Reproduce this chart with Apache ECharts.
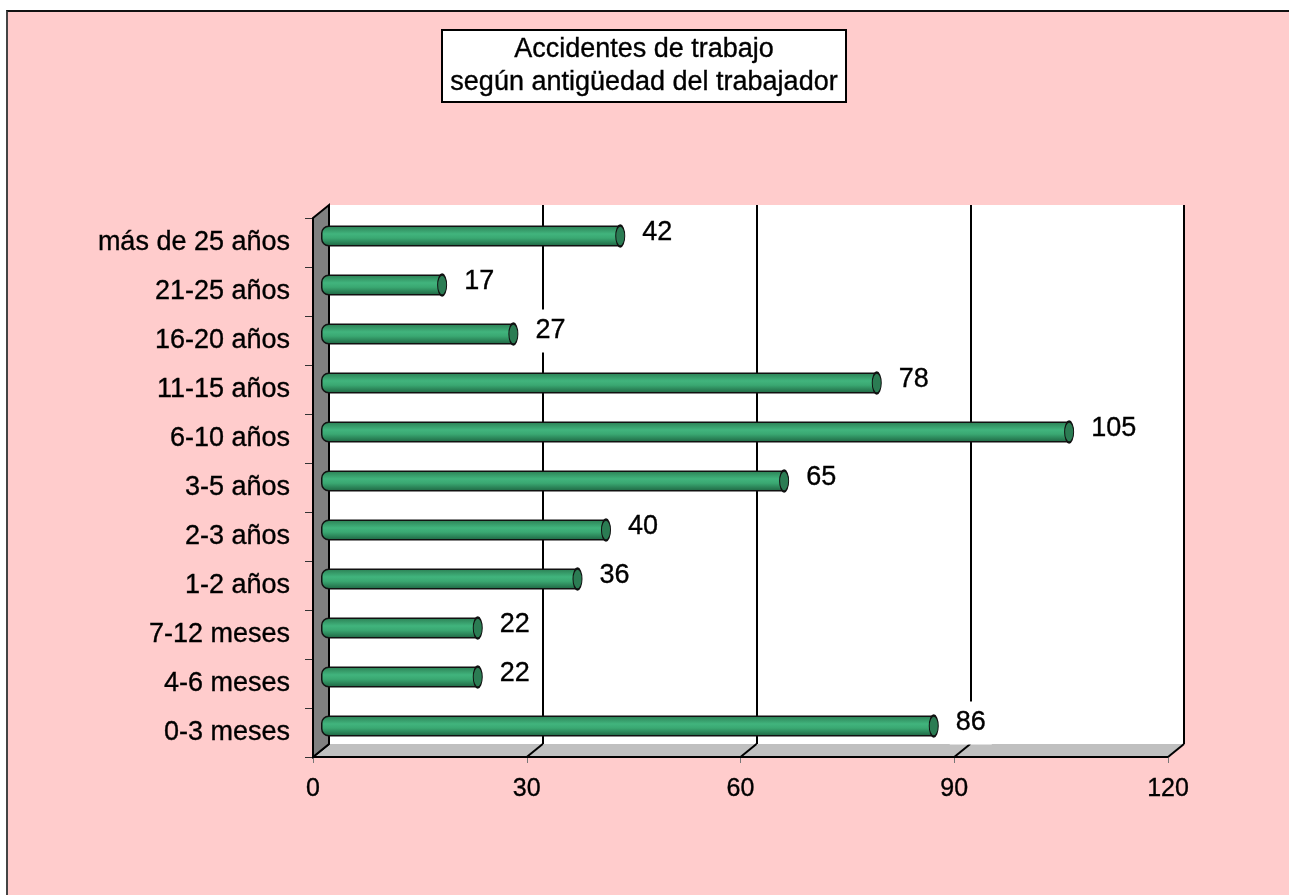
<!DOCTYPE html>
<html>
<head>
<meta charset="utf-8">
<script src="https://cdn.jsdelivr.net/npm/echarts@6/dist/echarts.min.js"></script>
<style>
html,body{margin:0;padding:0;background:#fff;width:1289px;height:895px;overflow:hidden;}
#bg{position:absolute;left:6px;top:10px;width:1300px;height:900px;background:#FFCCCC;border-top:2px solid #111;border-left:2px solid #444;}
#chart{position:absolute;left:0;top:0;width:1289px;height:895px;}
</style>
</head>
<body>
<div id="bg"></div>
<div id="chart"></div>
<script>
// ---- data ----
const categories = ['0-3 meses','4-6 meses','7-12 meses','1-2 años','2-3 años','3-5 años','6-10 años','11-15 años','16-20 años','21-25 años','más de 25 años'];
const values = [86, 22, 22, 36, 40, 65, 105, 78, 27, 17, 42];
const xTicks = [0, 30, 60, 90, 120];
const titleText = 'Accidentes de trabajo\nsegún antigüedad del trabajador';

// ---- layout ----
const FL = 313, FT = 218, W = 855, H = 539, DX = 16, DY = 13;
const FONT = '"Liberation Sans", Arial, Helvetica, sans-serif';
const heavy = {textBorderColor:'#000', textBorderWidth:0.35};

const chart = echarts.init(document.getElementById('chart'));
const xBase = {type:'value', min:xTicks[0], max:xTicks[xTicks.length-1], interval:30};

chart.setOption({
  backgroundColor:'transparent',
  animation:false,
  textStyle:{fontFamily:FONT, color:'#000'},
  title:{
    text:titleText, left:636, top:30, textAlign:'center',
    backgroundColor:'#fff', borderColor:'#000', borderWidth:2,
    padding:[3,8,3,8],
    textStyle:Object.assign({fontFamily:FONT, fontSize:27, fontWeight:'normal', lineHeight:33, color:'#000'}, heavy)
  },
  grid:[
    {left:FL+DX, top:FT-DY, width:W, height:H, show:true, backgroundColor:'#fff', borderWidth:0},
    {left:FL+DX/2, top:FT-DY/2, width:W, height:H},
    {left:FL, top:FT, width:W, height:H}
  ],
  xAxis:[
    Object.assign({gridIndex:0, axisLine:{show:false}, axisTick:{show:false}, axisLabel:{show:false},
      splitLine:{show:true, lineStyle:{color:'#000', width:2}}}, xBase),
    Object.assign({gridIndex:1, show:false, splitLine:{show:false}}, xBase),
    Object.assign({gridIndex:2, axisLine:{show:true, onZero:false, lineStyle:{color:'#000', width:2}},
      axisTick:{show:true, length:6, lineStyle:{color:'#777', width:1}},
      axisLabel:Object.assign({show:true, margin:20, fontSize:25, fontFamily:FONT, color:'#000'}, heavy),
      splitLine:{show:false}}, xBase)
  ],
  yAxis:[
    {gridIndex:0, type:'category', data:categories, show:false},
    {gridIndex:1, type:'category', data:categories, show:false},
    {gridIndex:2, type:'category', data:categories,
      axisLine:{show:false},
      axisTick:{show:true, length:8, lineStyle:{color:'#333', width:1}},
      axisLabel:Object.assign({margin:23, fontSize:27, fontFamily:FONT, color:'#000', padding:[8,0,0,0]}, heavy),
      splitLine:{show:false}}
  ],
  series:[
    {
      type:'bar', xAxisIndex:1, yAxisIndex:1, data:values, barWidth:21, z:5,
      itemStyle:{
        color:new echarts.graphic.LinearGradient(0,0,0,1,[
          {offset:0, color:'#2a7d52'},
          {offset:0.4, color:'#41b47d'},
          {offset:0.6, color:'#3aa872'},
          {offset:1, color:'#1d6240'}
        ]),
        borderColor:'#111', borderWidth:1.5, borderRadius:[7,0,0,7]
      },
      label:Object.assign({show:true, position:'right', distance:16, offset:[0,-3],
        fontSize:27, fontFamily:FONT, color:'#000',
        backgroundColor:'#fff', padding:[8,6,8,6]}, heavy)
    },
    {
      type:'scatter', xAxisIndex:1, yAxisIndex:1, data:values.map((v,i)=>[v, i]),
      symbol:'circle', symbolSize:[9,21], z:6,
      itemStyle:{color:'#2b7c53', borderColor:'#111', borderWidth:1.5, opacity:1}
    }
  ]
});

// 3D wall and floor, positioned from the axes' own scales
function px(v){ return chart.convertToPixel({xAxisIndex:2}, v); }
const x0 = px(xTicks[0]), x1 = px(xTicks[xTicks.length-1]);
const bottom = FT + H;
const els = [];
els.push({type:'polygon', z:1, shape:{points:[[x0,bottom],[x0+DX,bottom-DY],[x1+DX,bottom-DY],[x1,bottom]]},
  style:{fill:'#c0c0c0', stroke:null}});
xTicks.forEach(t=>{
  const x = px(t);
  els.push({type:'line', z:2, shape:{x1:x+DX, y1:bottom-DY, x2:x, y2:bottom}, style:{stroke:'#000', lineWidth:2}});
});
els.push({type:'polygon', z:2, shape:{points:[[x0,FT],[x0+DX,FT-DY],[x0+DX,bottom-DY],[x0,bottom]]},
  style:{fill:'#808080', stroke:'#000', lineWidth:2}});
els.push({type:'line', z:2, shape:{x1:x0, y1:bottom, x2:x1, y2:bottom}, style:{stroke:'#000', lineWidth:2}});
chart.setOption({graphic:els});
</script>
</body>
</html>
